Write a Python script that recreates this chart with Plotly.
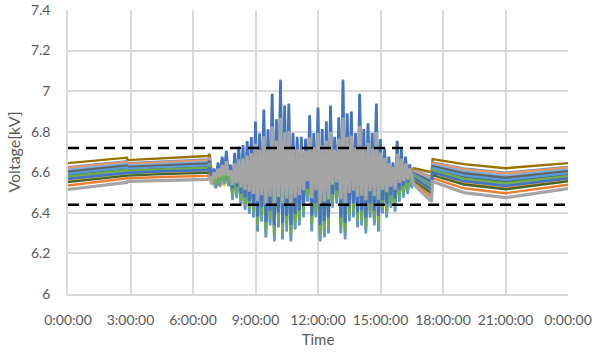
import numpy as np
import plotly.graph_objects as go

# ---------------- data ----------------
# night (before PV) envelope of the bundle of node voltages [kV]
NIGHT_T = [0.0, 2.83, 2.86, 4.5, 6.7, 6.8, 6.9]
NIGHT_TOP = [6.645, 6.672, 6.66, 6.67, 6.68, 6.69, 6.60]
NIGHT_BOT = [6.515, 6.55, 6.555, 6.56, 6.565, 6.58, 6.54]

# daytime (PV fluctuation): far-end peaks at 7.0, 7.2, ... 16.4 h,
# far-end troughs at 7.1, 7.3, ... 16.5 h, and the centre level
DAY_T0 = 7.0
DAY_STEP = 0.1
DAY_PEAK = [6.60, 6.63, 6.66, 6.69, 6.62, 6.68, 6.71, 6.72, 6.74, 6.76,
            6.84, 6.78, 6.90, 6.80, 6.98, 6.85, 7.05, 6.92, 6.93, 6.78,
            6.76, 6.76, 6.75, 6.87, 6.78, 6.91, 6.80, 6.84, 6.92, 6.76,
            6.86, 7.05, 6.88, 6.89, 6.78, 6.98, 6.80, 6.83, 6.78, 6.93,
            6.75, 6.70, 6.66, 6.63, 6.74, 6.70, 6.66, 6.62]
DAY_TROUGH = [6.55, 6.56, 6.57, 6.56, 6.49, 6.50, 6.46, 6.44, 6.42, 6.40,
              6.33, 6.38, 6.30, 6.36, 6.28, 6.35, 6.29, 6.33, 6.28, 6.34,
              6.36, 6.40, 6.48, 6.33, 6.40, 6.28, 6.30, 6.32, 6.45, 6.47,
              6.32, 6.29, 6.38, 6.40, 6.35, 6.36, 6.32, 6.40, 6.36, 6.33,
              6.42, 6.40, 6.45, 6.43, 6.48, 6.50, 6.52, 6.55]
DAY_MID = [6.575, 6.58, 6.585, 6.59, 6.575, 6.58, 6.585, 6.585, 6.59, 6.59,
           6.60, 6.60, 6.605, 6.61, 6.615, 6.62, 6.625, 6.625, 6.625, 6.625,
           6.63, 6.63, 6.63, 6.63, 6.63, 6.63, 6.63, 6.63, 6.63, 6.63,
           6.63, 6.625, 6.625, 6.625, 6.62, 6.62, 6.62, 6.62, 6.615, 6.615,
           6.61, 6.61, 6.605, 6.60, 6.61, 6.605, 6.60, 6.60]

# evening envelope
EVE_T = [16.6, 17.0, 17.45, 17.5, 19.0, 21.0, 24.0]
EVE_TOP = [6.62, 6.61, 6.60, 6.665, 6.64, 6.62, 6.645]
EVE_BOT = [6.54, 6.50, 6.455, 6.555, 6.50, 6.475, 6.52]

# nodes (in drawing order): colour, position in night fan (0 top, 1 bottom),
# daytime gain upward / downward, daytime offset, line width
NODE_COLORS = ["#A9D18E", "#ED7D31", "#FFC000", "#264478", "#9E480E", "#997300",
               "#255E91", "#43682B", "#698ED0", "#F1975A", "#7CAFDD", "#8CC168",
               "#FFCD33", "#636363", "#5B9BD5", "#70AD47", "#4472C4", "#A5A5A5"]
NODE_NIGHT_POS = [0.3, 0.85, 0.5, 0.45, 0.68, 0.0, 0.38, 0.72, 0.15, 0.18,
                  0.25, 0.55, 0.62, 0.32, 0.4, 0.5, 0.6, 1.0]
NODE_GAIN_UP = [1.0, 0.05, 0.15, 0.35, 0.25, 0.3, 0.4, 0.3, 0.5, 0.12,
                0.45, 0.4, 0.2, 0.45, 0.5, 0.5, 0.96, 0.55]
NODE_GAIN_DN = [0.6, 0.05, 0.15, 0.35, 0.25, 0.3, 0.4, 0.3, 0.5, 0.12,
                0.45, 0.4, 0.2, 1.0, 0.97, 0.93, 0.88, 0.56]
NODE_DAY_OFS = [0.01, 0.0, -0.045, 0.0, -0.01, 0.01, 0.0, -0.02, 0.01, -0.03,
                -0.03, -0.01, -0.04, -0.02, -0.03, -0.01, 0.02, 0.01]
NODE_WIDTH = [2.4] * 16 + [2.7, 3.2]

LIMIT_HIGH = 6.72
LIMIT_LOW = 6.44

X_TICKS = [0, 3, 6, 9, 12, 15, 18, 21, 24]
X_TICK_TEXT = ["0:00:00", "3:00:00", "6:00:00", "9:00:00", "12:00:00",
               "15:00:00", "18:00:00", "21:00:00", "0:00:00"]
Y_TICKS = [6.0, 6.2, 6.4, 6.6, 6.8, 7.0, 7.2, 7.4]
Y_TICK_TEXT = ["6", "6.2", "6.4", "6.6", "6.8", "7", "7.2", "7.4"]

# ---------------- build the series ----------------
day_t = []
day_far = []
day_mid = []
for k in range(len(DAY_PEAK)):
    day_t += [DAY_T0 + 2 * k * DAY_STEP, DAY_T0 + (2 * k + 1) * DAY_STEP]
    day_far += [DAY_PEAK[k], DAY_TROUGH[k]]
    day_mid += [DAY_MID[k], DAY_MID[k]]
day_t = np.array(day_t)
day_far = np.array(day_far)
day_mid = np.array(day_mid)

nt, ntop, nbot = map(np.array, (NIGHT_T, NIGHT_TOP, NIGHT_BOT))
et, etop, ebot = map(np.array, (EVE_T, EVE_TOP, EVE_BOT))
t_all = np.concatenate([nt, day_t, et])

fig = go.Figure()
for i, col in enumerate(NODE_COLORS):
    p = NODE_NIGHT_POS[i]
    v_n = ntop + p * (nbot - ntop)
    v_e = etop + p * (ebot - etop)
    dev = day_far - day_mid
    gain = np.where(dev > 0, NODE_GAIN_UP[i], NODE_GAIN_DN[i])
    v_d = day_mid + gain * dev + NODE_DAY_OFS[i]
    v = np.concatenate([v_n, v_d, v_e])
    fig.add_trace(go.Scatter(x=t_all, y=v, mode="lines",
                             line=dict(color=col, width=NODE_WIDTH[i]),
                             hoverinfo="skip"))

for lim in (LIMIT_HIGH, LIMIT_LOW):
    fig.add_trace(go.Scatter(x=[0, 24], y=[lim, lim], mode="lines",
                             line=dict(color="black", width=2.5, dash="11px,7px"),
                             hoverinfo="skip"))

font_fam = "Lato, 'Open Sans', sans-serif"
fig.update_layout(
    width=600, height=353,
    margin=dict(l=68, r=32, t=10, b=59),
    paper_bgcolor="white", plot_bgcolor="white",
    showlegend=False, hovermode=False,
    font=dict(family=font_fam, size=14, color="#595959"),
)
fig.update_xaxes(
    range=[0, 24], tickvals=X_TICKS, ticktext=X_TICK_TEXT,
    showgrid=True, gridcolor="#D9D9D9", gridwidth=1.5,
    showline=True, linecolor="#D9D9D9", linewidth=1.5,
    zeroline=False, ticks="", ticklabelstandoff=12, automargin=False,
    title=dict(text="Time", standoff=8, font=dict(size=15, color="#595959")),
    tickfont=dict(size=14, color="#595959"),
)
fig.update_yaxes(
    range=[6.0, 7.4], tickvals=Y_TICKS, ticktext=Y_TICK_TEXT,
    showgrid=True, gridcolor="#D9D9D9", gridwidth=1.5,
    showline=True, linecolor="#D9D9D9", linewidth=1.5,
    zeroline=False, ticks="", ticklabelstandoff=13, automargin=False,
    title=dict(text="Voltage[kV]", standoff=6, font=dict(size=16, color="#595959")),
    tickfont=dict(size=14, color="#595959"),
)

fig.write_html("out.html", config={"displayModeBar": False},
               post_script="document.body.style.margin='0px';document.body.style.padding='0px';")
